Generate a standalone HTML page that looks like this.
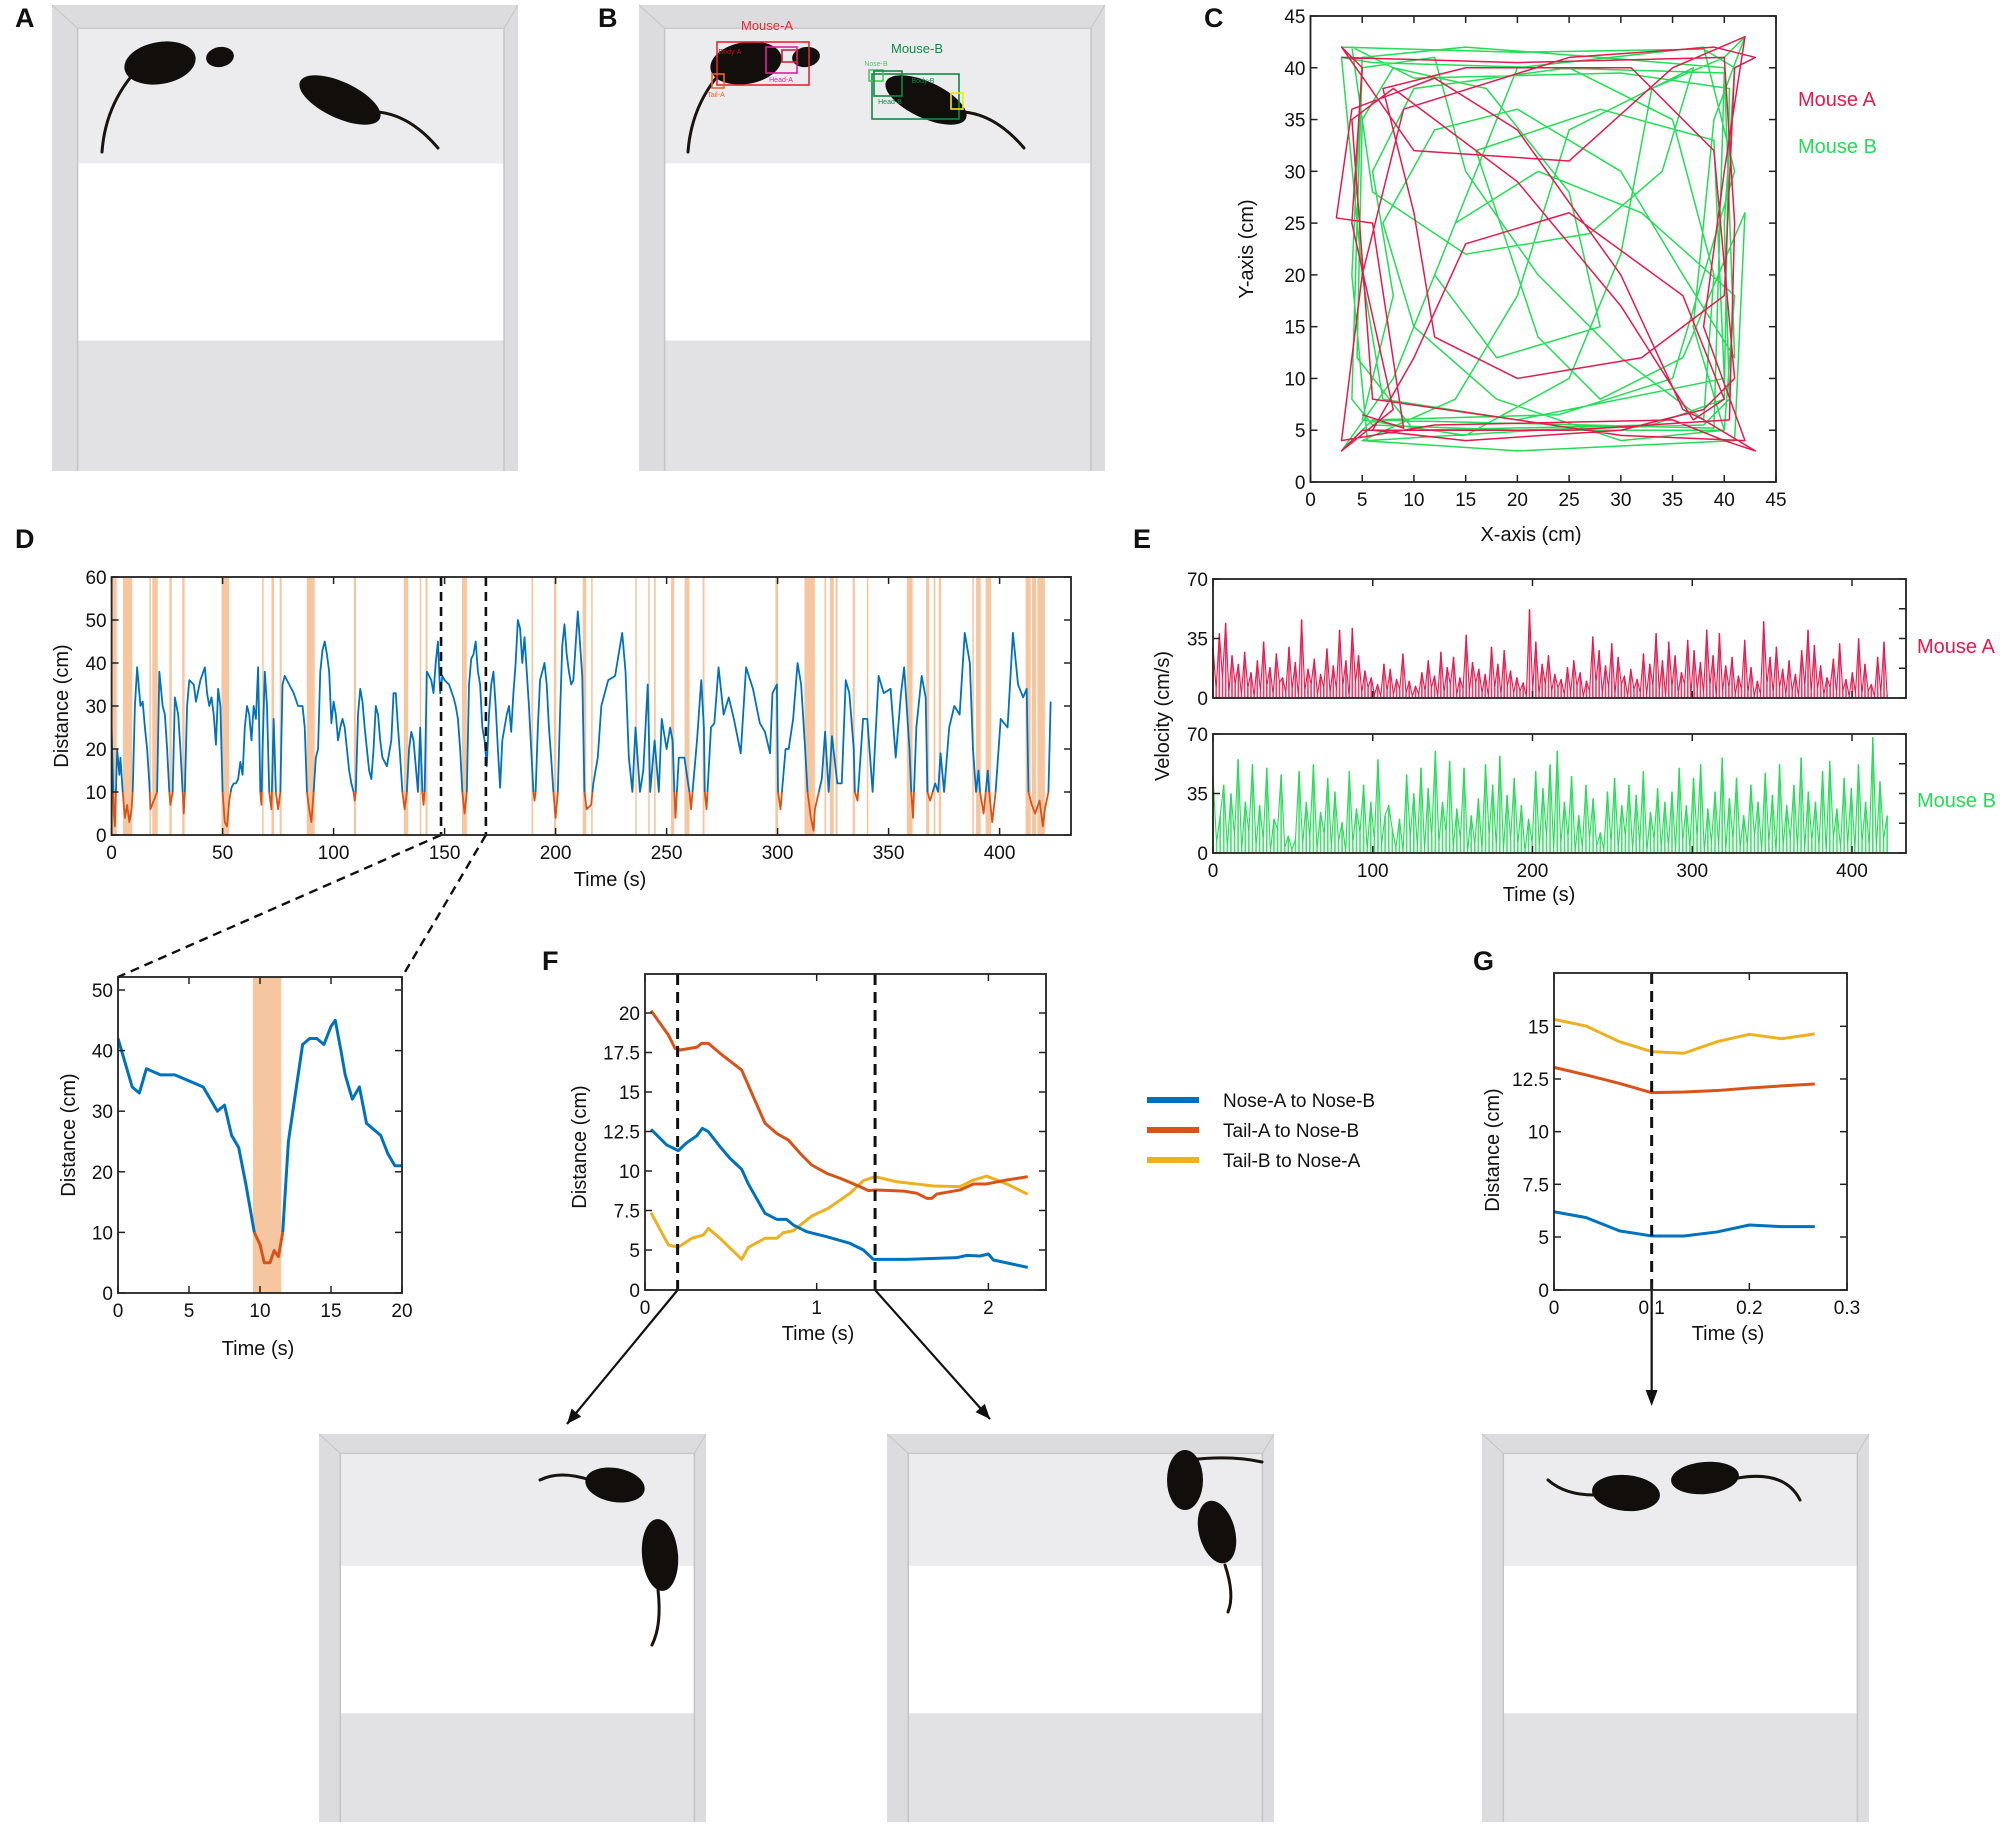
<!DOCTYPE html>
<html><head><meta charset="utf-8">
<style>
html,body{margin:0;padding:0;background:#fff;}
svg{display:block;font-family:"Liberation Sans",Arial,sans-serif;}
</style></head>
<body>
<svg id="fig" width="2008" height="1830" viewBox="0 0 2008 1830" xmlns="http://www.w3.org/2000/svg"></svg>
<script>
// ---------- DATA ----------
// Panel D: distance over time
const dTime=[0,1,1.5,2.5,3.5,4,5,6,7,8,9,9.5,10.5,11.5,13,14,15,16,17,17.5,19,20.5,21.5,23,24,25,26,26.5,27.5,28.5,30,31,32,32.5,33,34,35,37,38,40,42,43,44,45,46,47,48,49,50,51,52,53,54,55,56,57,58,59,60,61,62,63,64,65,66,67,67.5,68,69,70,71,72,73,74,75,76,77,78,80,82,84,86,87,88,89,90,91,92,93,94,95,96,97,98,99,100,101,102,103,104,105,106,107,108,109,109.5,110,111,112,113,114,115,116,117,118,119,120,121,122,123,124,126,127,128,129,130,131,132,133,134,135,136,137,138,139,140,140.5,141,142,144,145,146,147,148,149,150,152,154,155,156,157,158,159,160,161,162,163,164,165,166,167,168,169,170,171,172,173,174,175,176,177,178,179,180,181,182,183,184,185,186,187,188,189,190,190.5,191,192,193,194,195,196,197,198,199,200,201,202,203,204,205,206,207,208,210,212,213,214,216,217,219,220.6,223.7,226.8,228.4,230,231.5,233,234.6,236,238,239.5,241.5,242.6,244.6,246.5,247.8,250,251.6,252.7,253.5,254,255.5,258,259.7,260.3,261,263.7,265.6,266.8,267.2,268,270,271.5,273.4,275.7,278,280.3,283.4,285.8,288.9,292,294.3,296.6,297.7,299.7,300.2,301.3,303.6,305,307,309,310.6,312.4,313.5,315,316.2,316.8,319.9,321.4,323,324.5,326.9,328.9,330.7,332.3,334.3,334.8,336,338.5,340.4,342.8,345.5,347.8,350.9,353.2,355.6,357,359.4,360.2,361,362.5,364.9,366.7,367.5,368.7,371,372.3,373.4,375,377.3,379.6,382,384.3,386.6,388,389.4,390.5,391.2,392.8,394.7,395.3,396.7,398.2,400.5,403.6,406,408.3,410.6,412.2,413,414.5,416,418,419.5,420.4,422,423];
const dDist=[25,5,2,20,14,18,10,4,7,3,6,10,30,39,30,31,25,20,12,6,8,10,38,30,28,20,10,7,10,32,28,20,10,5,10,30,36,35,31,36,39,33,30,32,28,21,34,30,10,3,2,8,11,12,12,13,17,14,25,30,28,22,30,27,39,10,7,20,38,30,10,6,27,10,6,10,35,37,35,33,30,30,25,10,6,3,10,18,20,38,43,45,42,38,26,31,28,22,25,27,25,20,15,12,10,8,10,28,34,31,25,20,15,13,20,30,28,22,18,17,16,22,33,33,25,18,10,6,10,20,24,22,16,10,25,10,7,10,38,36,33,40,45,33,37,36,35,32,30,27,20,10,5,10,35,41,42,45,38,35,25,22,16,28,35,38,30,20,11,22,25,28,30,24,33,40,50,48,40,46,38,30,20,10,8,10,25,36,38,40,35,25,18,10,4,10,28,44,49,42,38,35,36,52,37,10,6,7,12,18,30,36,37,42,47,38,18,10,25,10,15,35,10,22,10,27,20,25,22,10,4,18,18,12,10,6,22,36,25,10,6,25,26,39,28,32,27,19,39,34,26,24,19,33,35,10,6,20,20,27,40,35,20,10,4,1,6,13,24,10,23,12,12,36,33,20,10,8,27,27,10,37,33,34,18,33,39,20,10,4,25,37,32,10,8,12,10,19,10,25,30,28,47,40,20,10,15,10,5,15,10,3,10,27,25,47,35,32,34,10,7,5,8,2,6,10,31,14];
const dShadeStart=[0.2,5.1,17,18.3,26,31.8,49.5,67.8,72,75.7,87.9,109.1,131.6,138.8,141.4,157.8,189.1,199.2,212.2,216,235.9,241.7,244.3,252,258.1,266.2,299,312.1,321.1,323.5,326.1,333.8,340.2,358.2,366.9,370.3,372.6,387.7,389.4,393.7,411.7,414.5,417];
const dShadeEnd=[2.3,9.3,17.7,20.8,27.1,32.9,53,68.5,73.2,76.6,91.5,110.1,133.6,139.3,142.3,160,189.9,200.3,213.8,216.7,236.4,242.3,245.1,253.5,260.3,267.1,300.2,316.8,321.9,325.3,327,334.8,340.7,360.8,368.3,371.1,373.6,388.4,391.5,396.2,414,416.5,420.4];
const dXTicks=[0,50,100,150,200,250,300,350,400];
const dYTicks=[0,10,20,30,40,50,60];
const dZoomStart=148.4, dZoomEnd=168.6;

// Inset (zoomed) panel
const zTime=[0,0.5,1,1.5,2,3,4,5,6,7,7.5,8,8.5,9,9.3,9.6,10,10.3,10.7,11,11.3,11.6,12,12.5,13,13.5,14,14.5,15,15.3,15.7,16,16.5,17,17.5,18,18.5,19,19.5,20];
const zDist=[42,38,34,33,37,36,36,35,34,30,31,26,24,18,14,10,8,5,5,7,6,10,25,33,41,42,42,41,44,45,40,36,32,34,28,27,26,23,21,21];
const zShade=[9.5,11.5];
const zXTicks=[0,5,10,15,20];
const zYTicks=[0,10,20,30,40,50];

// Panel E: velocities
const velA=[30,5,38,12,44,3,25,8,20,2,27,6,15,1,22,4,33,7,18,2,26,9,12,3,30,5,21,1,46,4,17,8,23,2,14,6,29,3,19,5,40,7,22,1,41,9,25,3,16,6,12,2,8,1,20,4,17,2,11,5,26,3,10,1,7,2,15,4,22,6,13,1,27,3,18,8,24,2,12,5,37,4,21,9,17,3,14,1,30,6,20,2,28,7,16,3,12,4,9,1,52,5,33,2,20,8,25,4,14,6,11,2,18,3,22,7,15,1,10,4,36,9,28,3,19,6,32,2,24,8,13,1,17,5,11,3,26,2,20,7,38,4,22,1,33,6,25,3,15,8,34,2,28,5,21,3,40,7,25,1,38,4,19,6,24,2,13,5,34,3,18,1,10,2,45,8,24,3,30,6,17,2,22,4,14,1,28,7,40,3,31,5,19,2,12,6,23,3,32,4,11,1,15,3,35,2,20,4,8,1,24,3,33,2];
const velB=[45,6,22,40,3,35,10,55,2,30,12,52,4,28,8,50,1,20,14,46,3,10,2,8,48,5,30,9,52,2,24,11,44,3,36,7,18,1,48,6,26,12,40,2,30,8,55,5,22,28,14,3,20,1,46,9,35,4,50,2,38,10,60,6,30,12,54,3,26,8,50,1,22,5,32,2,52,10,40,4,57,2,34,8,44,5,28,1,20,6,48,3,38,10,52,2,60,5,30,9,45,1,22,3,40,8,32,4,12,2,36,6,44,3,28,10,40,2,34,5,48,1,24,8,38,3,30,4,36,2,50,7,28,3,44,9,52,1,26,6,36,4,56,2,32,8,44,3,22,5,40,10,30,2,47,6,34,1,52,4,28,8,40,3,56,2,36,7,30,4,48,1,54,9,26,3,44,5,38,2,52,6,30,4,68,3,42,8,22];
const eXTicks=[0,100,200,300,400];
const eYTicks=[0,35,70];

// Panel C: trajectories (cm)
const trajBx=[3,20,38,41,40,40.5,38,20,6,4,4.5,5,12,15,22,30,38,39,35,25,10,6,8,5,15,25,30,33,40,42,39,37,40,30,18,10,7,12,20,30,36,41,40,28,15,5,4,5.5,22,40,41,32,22,14,8,3,6,24,35,41,38,20,12,18,28,25,17,8,5,4.5,10,33,40,40.5,30,10,4,6,15,27,34,37,25,20,14,5,20,41,42,36,28,22,16,28,39,40,20,7,5,3,6,40,39,6];
const trajBy=[42,41.5,41.8,40,25,8,5.5,5,5.5,8,25,40,41,30,20,12,6,20,35,40,38,30,18,6,4.5,10,22,38,41,43,35,15,5,4,8,15,25,34,36,30,20,12,40,41,42,41,20,4,5,5,18,26,30,25,10,3,6,6.5,10,30,42,40,20,12,15,28,38,40,35,12,5,5.5,8,38,39.5,39,42,28,22,24,30,40,34,18,8,4,3,4,26,12,8,14,32,36,33,10,6,8,20,41,40.5,39.5,5.2,6];
const trajAx=[3,20,40,41,40.5,25,5,3,8,4,5,3,10,25,35,42,40,38,42,30,20,6,4,8,20,30,37,40,36,25,15,10,6,15,30,38,41,39,31,15,7,10,12,20,32,40,41,43,39,25,9,5,3,12,35,40,43,38,36,30,20,12,4,2.5,6,9,5];
const trajAy=[41,40.5,41,25,6,5,5,3,7,25,40,42,32,31,40,43,30,15,4,4.5,6,8,35,38,29,17,6,8,18,26,23,12,5,4,5,7,10,32,40,40,38,26,14,10,12,18,40,41,42,41,36,20,4,5.5,6,4,3,6,7,20,34,39,36,25.5,25,5.2,6.5];
const cTicks=[0,5,10,15,20,25,30,35,40,45];

// Panel F
const fTimeRed=[0.035,0.136,0.175,0.204,0.301,0.330,0.369,0.437,0.563,0.631,0.699,0.767,0.835,0.903,0.971,1.058,1.136,1.252,1.301,1.340,1.505,1.583,1.641,1.670,1.699,1.835,1.913,1.990,2.107,2.229];
const fTailANoseB=[20.15,18.61,17.76,17.66,17.83,18.08,18.08,17.45,16.39,14.70,13.02,12.38,11.96,11.12,10.38,9.85,9.54,9.01,8.76,8.80,8.73,8.59,8.27,8.27,8.54,8.80,9.18,9.18,9.43,9.64];
const fTimeBlue=[0.035,0.126,0.194,0.243,0.301,0.334,0.369,0.437,0.495,0.563,0.602,0.699,0.767,0.825,0.864,0.942,1.058,1.194,1.272,1.330,1.524,1.816,1.874,1.951,2.0,2.029,2.229];
const fNoseANoseB=[12.64,11.65,11.29,11.79,12.22,12.70,12.49,11.54,10.80,10.11,9.18,7.32,6.94,6.94,6.58,6.16,5.84,5.42,5.0,3.83,3.83,4.04,4.33,4.25,4.5,3.75,2.83];
const fTimeYellow=[0.035,0.136,0.194,0.272,0.340,0.369,0.437,0.563,0.602,0.699,0.767,0.806,0.864,0.971,1.068,1.194,1.272,1.340,1.466,1.680,1.835,1.913,1.990,2.107,2.229];
const fTailBNoseA=[7.36,5.32,5.17,5.74,5.95,6.37,5.74,3.83,5.17,5.74,5.74,6.10,6.22,7.15,7.64,8.59,9.39,9.64,9.32,9.05,9.01,9.43,9.68,9.18,8.53];
const fMarks=[0.19,1.34];
const fXTicks=[0,1,2];
const fYTicks=[0,5,7.5,10,12.5,15,17.5,20];

// Panel G
const gTime=[0,0.033,0.067,0.1,0.133,0.167,0.2,0.233,0.267];
const gNoseANoseB=[6.20,5.92,5.29,5.05,5.05,5.24,5.57,5.49,5.49];
const gTailANoseB=[13.05,12.69,12.29,11.85,11.88,11.95,12.07,12.17,12.26];
const gTailBNoseA=[15.33,15.01,14.27,13.80,13.72,14.27,14.62,14.41,14.64];
const gMark=0.1;
const gXTicks=[0,0.1,0.2,0.3];
const gYTicks=[0,5,7.5,10,12.5,15];

// ---------- HELPERS ----------
const NS='http://www.w3.org/2000/svg';
const svg=document.getElementById('fig');
const BLUE='#0072BD',ORANGE='#D95319',YELLOW='#EDB120',SHADE='#F6C6A0',RED='#E6194E',GREEN='#22DD55';
function mk(tag,attrs,name,parent){
  const el=document.createElementNS(NS,tag);
  for(const k in attrs) el.setAttribute(k,attrs[k]);
  
  
  (parent||svg).appendChild(el);
  return el;
}
function txt(x,y,s,name,o,parent){
  o=o||{};
  const el=mk('text',{x:x,y:y,'font-size':o.size||19,'text-anchor':o.anchor||'middle',fill:o.fill||'#111','font-weight':o.weight||'normal',transform:o.rot?`rotate(-90 ${x} ${y})`:''},name,parent);
  el.textContent=s;
  return el;
}
function lin(d0,d1,p0,p1){return v=>p0+(v-d0)/(d1-d0)*(p1-p0);}
function poly(pts,stroke,w,name,parent,extra){
  const a={points:pts.map(p=>p[0].toFixed(2)+','+p[1].toFixed(2)).join(' '),fill:'none',stroke:stroke,'stroke-width':w,'stroke-linejoin':'round'};
  if(extra) for(const k in extra) a[k]=extra[k];
  return mk('polyline',a,name,parent);
}
function box(x0,y0,x1,y1,name){
  return mk('rect',{x:x0,y:y0,width:x1-x0,height:y1-y0,fill:'none',stroke:'#222','stroke-width':1.8},name);
}
function ticksX(vals,sx,y0,y1,name,lbl,fmt){
  const g=mk('g',{},name);
  vals.forEach(v=>{
    const x=sx(v);
    mk('line',{x1:x,y1:y1,x2:x,y2:y1-7,stroke:'#222','stroke-width':1.5},'x-tick',g);
    mk('line',{x1:x,y1:y0,x2:x,y2:y0+7,stroke:'#222','stroke-width':1.5},'x-tick-top',g);
    if(lbl!==false) txt(x,y1+24,fmt?fmt(v):String(v),'x-tick-label',{},g);
  });
}
function ticksY(vals,sy,x0,x1,name,fmt){
  const g=mk('g',{},name);
  vals.forEach(v=>{
    const y=sy(v);
    mk('line',{x1:x0,y1:y,x2:x0+7,y2:y,stroke:'#222','stroke-width':1.5},'y-tick',g);
    mk('line',{x1:x1,y1:y,x2:x1-7,y2:y,stroke:'#222','stroke-width':1.5},'y-tick-right',g);
    txt(x0-5,y+7,fmt?fmt(v):String(v),'y-tick-label',{anchor:'end'},g);
  });
}
function label(x,y,s){txt(x,y,s,'panel-label-'+s.toLowerCase(),{size:27,weight:'bold',anchor:'start'});}

// ---------- PHOTOS ----------
function photo(x,y,w,h,name){
  const g=mk('g',{},name);
  mk('rect',{x:x,y:y,width:w,height:h,fill:'#dcdcde'},'photo-frame',g);
  mk('rect',{x:x+w*0.055,y:y+h*0.05,width:w*0.915,height:h*0.95,fill:'#ececee'},'photo-floor',g);
  mk('rect',{x:x+w*0.055,y:y+h*0.34,width:w*0.915,height:h*0.38,fill:'#ffffff'},'light-band',g);
  mk('rect',{x:x+w*0.055,y:y+h*0.72,width:w*0.915,height:h*0.28,fill:'#e2e2e4'},'photo-lower-floor',g);
  mk('line',{x1:x+w*0.055,y1:y+h*0.05,x2:x+w*0.055,y2:y+h,stroke:'#c4c4c6','stroke-width':1.5},'photo-edge',g);
  mk('line',{x1:x+w*0.97,y1:y+h*0.05,x2:x+w*0.97,y2:y+h,stroke:'#c4c4c6','stroke-width':1.5},'photo-edge',g);
  mk('line',{x1:x+w*0.055,y1:y+h*0.05,x2:x+w*0.97,y2:y+h*0.05,stroke:'#cacaca','stroke-width':1.5},'photo-edge',g);
  mk('line',{x1:x,y1:y,x2:x+w*0.055,y2:y+h*0.05,stroke:'#c4c4c4','stroke-width':1},'photo-corner',g);
  mk('line',{x1:x+w,y1:y,x2:x+w*0.97,y2:y+h*0.05,stroke:'#c4c4c4','stroke-width':1},'photo-corner',g);
  return g;
}
function mouse(g,cx,cy,rx,ry,rot,tail,name){
  const m=mk('g',{},name,g);
  mk('path',{d:tail,fill:'none',stroke:'#1a1410','stroke-width':3,'stroke-linecap':'round'},'mouse-tail',m);
  mk('ellipse',{cx:cx,cy:cy,rx:rx,ry:ry,fill:'#120e0c',transform:`rotate(${rot} ${cx} ${cy})`},'mouse-body',m);
}
// A
let pA=photo(52,5,466,466,'photo-a');
mouse(pA,160,63,36,21,-10,'M130 78 Q105 110 102 152','mouse-a');
mouse(pA,220,57,14,10,-10,'M0 0','mouse-a-head');
mouse(pA,340,100,44,18,25,'M378 112 Q410 115 438 148','mouse-b');
// B
let pB=photo(639,5,466,466,'photo-b');
mouse(pB,746,63,36,21,-10,'M716 78 Q691 110 688 152','mouse-a');
mouse(pB,806,57,14,10,-10,'M0 0','mouse-a-head');
mouse(pB,926,100,44,18,25,'M964 112 Q996 115 1024 148','mouse-b');
function bbox(x,y,w,h,c,name){mk('rect',{x:x,y:y,width:w,height:h,fill:'none',stroke:c,'stroke-width':1.6},name,pB);}
bbox(717,42,92,43,'#ee2233','mouse-a-box');
bbox(766,47,31,26,'#e020a0','head-a-box');
bbox(782,50,15,12,'#cc2244','nose-a-box');
bbox(712,74,12,14,'#ee6622','tail-a-box');
bbox(872,74,87,45,'#118844','mouse-b-box');
bbox(869,70,14,11,'#44cc55','nose-b-box');
bbox(874,71,28,25,'#118844','head-b-box');
bbox(951,93,12,16,'#eeee00','tail-b-box');
txt(767,30,'Mouse-A','mouse-a-label',{size:13,fill:'#ee2233'},pB);
txt(730,54,'Body-A','body-a-label',{size:7,fill:'#cc1122'},pB);
txt(781,82,'Head-A','head-a-label',{size:7,fill:'#e020a0'},pB);
txt(716,97,'Tail-A','tail-a-label',{size:7,fill:'#ee6622'},pB);
txt(917,53,'Mouse-B','mouse-b-label',{size:13,fill:'#118844'},pB);
txt(876,66,'Nose-B','nose-b-label',{size:7,fill:'#44cc55'},pB);
txt(890,104,'Head-B','head-b-label',{size:7,fill:'#118844'},pB);
txt(923,83,'Body-B','body-b-label',{size:7,fill:'#118844'},pB);
// bottom photos
let p1=photo(319,1434,387,388,'photo-frame-1');
mouse(p1,615,1485,30,17,10,'M590 1480 Q560 1470 540 1480','mouse-1a');
mouse(p1,660,1555,18,36,-5,'M658 1590 Q662 1625 652 1645','mouse-1b');
let p2=photo(887,1434,387,388,'photo-frame-2');
mouse(p2,1185,1480,18,30,0,'M1190 1460 Q1230 1455 1262 1462','mouse-2a');
mouse(p2,1217,1532,18,32,-15,'M1225 1565 Q1235 1595 1228 1612','mouse-2b');
let p3=photo(1482,1434,387,388,'photo-frame-3');
mouse(p3,1626,1493,34,18,5,'M1594 1495 Q1565 1495 1548 1480','mouse-3a');
mouse(p3,1705,1478,34,16,-5,'M1738 1478 Q1785 1470 1800 1500','mouse-3b');

label(15,27,'A');label(598,27,'B');label(1204,27,'C');label(15,548,'D');label(1133,548,'E');label(542,970,'F');label(1473,970,'G');

// ---------- PANEL C ----------
(function(){
  const X0=1310.5,X1=1776,Y0=16,Y1=482;
  const sx=lin(0,45,X0,X1), sy=lin(0,45,Y1,Y0);
  const g=mk('g',{},'trajectory-plot');
  poly(trajBx.map((v,i)=>[sx(v),sy(trajBy[i])]),GREEN,1.5,'trajectory-mouse-b',g);
  poly(trajAx.map((v,i)=>[sx(v),sy(trajAy[i])]),RED,1.5,'trajectory-mouse-a',g);
  box(X0,Y0,X1,Y1,'plot-frame-c');
  ticksX(cTicks,sx,Y0,Y1,'x-axis-c');
  ticksY(cTicks,sy,X0,X1,'y-axis-c');
  txt(1531,541,'X-axis (cm)','x-axis-title-c',{size:20});
  txt(1253,249,'Y-axis (cm)','y-axis-title-c',{size:20,rot:true});
  txt(1798,106,'Mouse A','legend-mouse-a',{size:20,anchor:'start',fill:RED});
  txt(1798,153,'Mouse B','legend-mouse-b',{size:20,anchor:'start',fill:GREEN});
})();

// ---------- PANEL D ----------
(function(){
  const X0=111.6,X1=1071,Y0=577,Y1=835;
  const sx=lin(0,400,X0,X0+400*2.22), sy=lin(0,60,Y1,Y0);
  const g=mk('g',{},'distance-plot');
  dShadeStart.forEach((s,i)=>{mk('rect',{x:sx(s),y:Y0,width:Math.max(1.5,sx(dShadeEnd[i])-sx(s)),height:Y1-Y0,fill:SHADE},'contact-band',g);});
  const defs=mk('defs',{},'defs-d',g);
  const c1=mk('clipPath',{id:'dAbove'},'clip-above',defs); mk('rect',{x:X0,y:Y0,width:X1-X0,height:sy(10)-Y0},'clip-rect',c1);
  const c2=mk('clipPath',{id:'dBelow'},'clip-below',defs); mk('rect',{x:X0,y:sy(10),width:X1-X0,height:Y1-sy(10)},'clip-rect',c2);
  const pts=dTime.map((t,i)=>[sx(t),sy(dDist[i])]);
  poly(pts,BLUE,1.8,'distance-line',g,{'clip-path':'url(#dAbove)'});
  poly(pts,ORANGE,1.8,'contact-distance-line',g,{'clip-path':'url(#dBelow)'});
  box(X0,Y0,X1,Y1,'plot-frame-d');
  ticksX(dXTicks,sx,Y0,Y1,'x-axis-d');
  ticksY(dYTicks,sy,X0,X1,'y-axis-d');
  txt(610,886,'Time (s)','x-axis-title-d',{size:20});
  txt(68,706,'Distance (cm)','y-axis-title-d',{size:20,rot:true});
  [dZoomStart,dZoomEnd].forEach(t=>mk('line',{x1:sx(t),y1:Y0,x2:sx(t),y2:Y1,stroke:'#111','stroke-width':2.6,'stroke-dasharray':'9,6'},'zoom-marker',g));
  mk('line',{x1:sx(dZoomStart),y1:Y1,x2:118,y2:977,stroke:'#111','stroke-width':2.4,'stroke-dasharray':'9,6'},'zoom-connector-left',g);
  mk('line',{x1:sx(dZoomEnd),y1:Y1,x2:402,y2:977,stroke:'#111','stroke-width':2.4,'stroke-dasharray':'9,6'},'zoom-connector-right',g);
})();

// ---------- INSET ----------
(function(){
  const X0=118,X1=402,Y0=977,Y1=1293;
  const sx=lin(0,20,X0,X1), sy=lin(0,50,Y1,990);
  const g=mk('g',{},'zoom-plot');
  mk('rect',{x:sx(zShade[0]),y:Y0,width:sx(zShade[1])-sx(zShade[0]),height:Y1-Y0,fill:SHADE},'contact-band',g);
  const defs=mk('defs',{},'defs-z',g);
  const c1=mk('clipPath',{id:'zAbove'},'clip-above',defs); mk('rect',{x:X0,y:Y0,width:X1-X0,height:sy(10)-Y0},'clip-rect',c1);
  const c2=mk('clipPath',{id:'zBelow'},'clip-below',defs); mk('rect',{x:X0,y:sy(10),width:X1-X0,height:Y1-sy(10)},'clip-rect',c2);
  const pts=zTime.map((t,i)=>[sx(t),sy(zDist[i])]);
  poly(pts,BLUE,3,'zoom-distance-line',g,{'clip-path':'url(#zAbove)'});
  poly(pts,ORANGE,3,'zoom-contact-line',g,{'clip-path':'url(#zBelow)'});
  box(X0,Y0,X1,Y1,'plot-frame-zoom');
  ticksX(zXTicks,sx,Y0,Y1,'x-axis-zoom');
  ticksY(zYTicks,sy,X0,X1,'y-axis-zoom');
  txt(258,1355,'Time (s)','x-axis-title-zoom',{size:20});
  txt(75,1135,'Distance (cm)','y-axis-title-zoom',{size:20,rot:true});
})();

// ---------- PANEL E ----------
(function(){
  const X0=1213,X1=1906;
  const sx=lin(0,400,X0,X0+400*1.5975);
  function panel(vals,col,Y0,Y1,nm){
    const sy=lin(0,70,Y1,Y0);
    const g=mk('g',{},nm);
    const step=422/(vals.length-1);
    vals.forEach((v,i)=>{mk('line',{x1:sx(i*step),y1:Y1,x2:sx(i*step),y2:sy(v),stroke:col,'stroke-width':1.6,'stroke-opacity':0.85},'velocity-spike',g);});
    poly(vals.map((v,i)=>[sx(i*step),sy(v)]),col,1.1,nm+'-line',g);
    box(X0,Y0,X1,Y1,nm+'-frame');
    ticksX(eXTicks,sx,Y0,Y1,nm+'-x-ticks',Y1>800);
    ticksY(eYTicks,sy,X0,X1,nm+'-y-axis');
    [17.5,52.5].forEach(v=>mk('line',{x1:X1,y1:sy(v),x2:X1-7,y2:sy(v),stroke:'#222','stroke-width':1.5},'minor-tick',g));
  }
  panel(velA,RED,579,698,'velocity-mouse-a');
  panel(velB,GREEN,734,853,'velocity-mouse-b');
  txt(1539,901,'Time (s)','x-axis-title-e',{size:20});
  txt(1169,716,'Velocity (cm/s)','y-axis-title-e',{size:20,rot:true});
  txt(1917,653,'Mouse A','label-mouse-a',{size:20,anchor:'start',fill:RED});
  txt(1917,807,'Mouse B','label-mouse-b',{size:20,anchor:'start',fill:GREEN});
})();

// ---------- PANEL F ----------
(function(){
  const X0=645,X1=1046,Y0=974,Y1=1290;
  const sx=lin(0,1,X0,816.7);
  const sy=v=> v>=5 ? 1250-(v-5)*15.8 : 1290-v*8;
  const g=mk('g',{},'panel-f-plot');
  poly(fTimeYellow.map((t,i)=>[sx(t),sy(fTailBNoseA[i])]),YELLOW,3,'tail-b-to-nose-a-line',g);
  poly(fTimeRed.map((t,i)=>[sx(t),sy(fTailANoseB[i])]),ORANGE,3,'tail-a-to-nose-b-line',g);
  poly(fTimeBlue.map((t,i)=>[sx(t),sy(fNoseANoseB[i])]),BLUE,3,'nose-a-to-nose-b-line',g);
  box(X0,Y0,X1,Y1,'plot-frame-f');
  ticksX(fXTicks,sx,Y0,Y1,'x-axis-f');
  ticksY(fYTicks,sy,X0,X1,'y-axis-f');
  txt(818,1340,'Time (s)','x-axis-title-f',{size:20});
  txt(586,1147,'Distance (cm)','y-axis-title-f',{size:20,rot:true});
  fMarks.forEach((t,i)=>mk('line',{x1:sx(t),y1:Y0,x2:sx(t),y2:Y1,stroke:'#111','stroke-width':3,'stroke-dasharray':'11,7'},'frame-marker',g));
  const ends=[[567,1424],[990,1419]];
  fMarks.forEach((t,i)=>{
    const x0=sx(t),y0=Y1,x1=ends[i][0],y1=ends[i][1];
    mk('line',{x1:x0,y1:y0,x2:x1,y2:y1,stroke:'#111','stroke-width':2.2},'frame-arrow',g);
    const a=Math.atan2(y1-y0,x1-x0),L=16;
    const p=[[x1,y1],[x1-L*Math.cos(a-0.4),y1-L*Math.sin(a-0.4)],[x1-L*Math.cos(a+0.4),y1-L*Math.sin(a+0.4)]];
    mk('polygon',{points:p.map(q=>q.join(',')).join(' '),fill:'#111'},'arrow-head',g);
  });
  const lg=mk('g',{},'legend');
  [['Nose-A to Nose-B',BLUE,1100],['Tail-A to Nose-B',ORANGE,1130],['Tail-B to Nose-A',YELLOW,1160]].forEach(e=>{
    mk('line',{x1:1147,y1:e[2],x2:1199,y2:e[2],stroke:e[1],'stroke-width':6},'legend-swatch',lg);
    txt(1223,e[2]+7,e[0],'legend-entry',{size:19,anchor:'start'},lg);
  });
})();

// ---------- PANEL G ----------
(function(){
  const X0=1554,X1=1847,Y0=973,Y1=1290;
  const sx=lin(0,0.3,X0,X1);
  const sy=v=> v>=5 ? 1237-(v-5)*21.07 : 1290-v*10.6;
  const g=mk('g',{},'panel-g-plot');
  poly(gTime.map((t,i)=>[sx(t),sy(gTailBNoseA[i])]),YELLOW,3,'tail-b-to-nose-a-line',g);
  poly(gTime.map((t,i)=>[sx(t),sy(gTailANoseB[i])]),ORANGE,3,'tail-a-to-nose-b-line',g);
  poly(gTime.map((t,i)=>[sx(t),sy(gNoseANoseB[i])]),BLUE,3,'nose-a-to-nose-b-line',g);
  box(X0,Y0,X1,Y1,'plot-frame-g');
  ticksX(gXTicks,sx,Y0,Y1,'x-axis-g',true,v=>v===0?'0':v.toFixed(1));
  ticksY(gYTicks,sy,X0,X1,'y-axis-g');
  txt(1728,1340,'Time (s)','x-axis-title-g',{size:20});
  txt(1499,1150,'Distance (cm)','y-axis-title-g',{size:20,rot:true});
  const x=sx(gMark);
  mk('line',{x1:x,y1:Y0,x2:x,y2:Y1,stroke:'#111','stroke-width':3,'stroke-dasharray':'11,7'},'frame-marker',g);
  mk('line',{x1:x,y1:Y1,x2:x,y2:1392,stroke:'#111','stroke-width':2.2},'frame-arrow',g);
  mk('polygon',{points:`${x},1406 ${x-6},1390 ${x+6},1390`,fill:'#111'},'arrow-head',g);
})();
</script>
</body></html>
